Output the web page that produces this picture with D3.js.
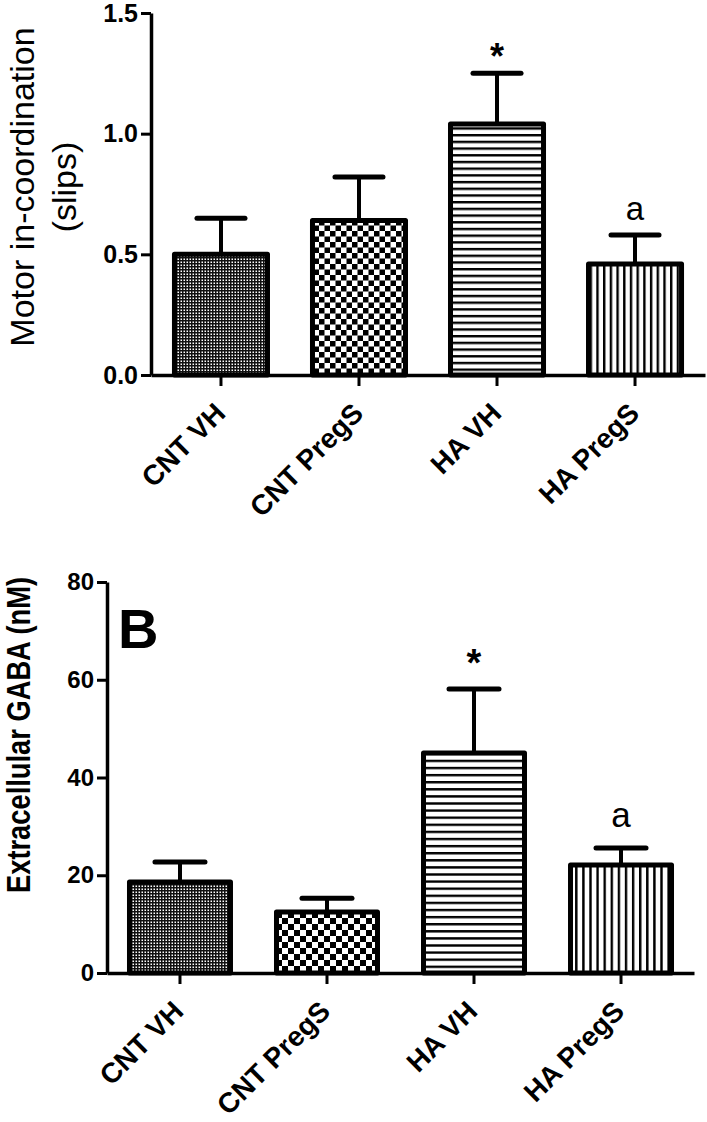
<!DOCTYPE html>
<html>
<head>
<meta charset="utf-8">
<script src="https://cdn.jsdelivr.net/npm/d3@7"></script>
<style>
html,body{margin:0;padding:0;background:#fff;}
svg{display:block;}
</style>
</head>
<body>
<svg id="chart" width="707" height="1122"></svg>
<script>
// ---- data ----
const categories = ["CNT VH", "CNT PregS", "HA VH", "HA PregS"];
const motorMeans = [0.50, 0.64, 1.04, 0.46];
const motorUpper = [0.65, 0.82, 1.25, 0.58];
const motorTicks = [0, 0.5, 1.0, 1.5];
const motorMarks = ["", "", "*", "a"];
const gabaMeans = [18.6, 12.5, 45.0, 22.1];
const gabaUpper = [22.7, 15.3, 58.1, 25.6];
const gabaTicks = [0, 20, 40, 60, 80];
const gabaMarks = ["", "", "*", "a"];

const svg = d3.select("#chart");
const defs = svg.append("defs");

function makePatterns(prefix, cell, lineP) {
  // fine dots
  const p0 = defs.append("pattern").attr("id", prefix + "p0").attr("patternUnits", "userSpaceOnUse")
    .attr("width", 3).attr("height", 3);
  p0.append("rect").attr("width", 3).attr("height", 3).attr("fill", "#111");
  p0.append("rect").attr("x", 0.5).attr("y", 0.5).attr("width", 1.5).attr("height", 1.5).attr("fill", "#fff");
  // checkerboard
  const p1 = defs.append("pattern").attr("id", prefix + "p1").attr("patternUnits", "userSpaceOnUse")
    .attr("width", cell * 2).attr("height", cell * 2);
  p1.append("rect").attr("width", cell * 2).attr("height", cell * 2).attr("fill", "#fff");
  p1.append("rect").attr("width", cell).attr("height", cell).attr("fill", "#000");
  p1.append("rect").attr("x", cell).attr("y", cell).attr("width", cell).attr("height", cell).attr("fill", "#000");
  // horizontal lines
  const p2 = defs.append("pattern").attr("id", prefix + "p2").attr("patternUnits", "userSpaceOnUse")
    .attr("width", 10).attr("height", lineP);
  p2.append("rect").attr("width", 10).attr("height", lineP).attr("fill", "#fff");
  p2.append("rect").attr("width", 10).attr("height", 2.4).attr("fill", "#000");
  // vertical lines
  const p3 = defs.append("pattern").attr("id", prefix + "p3").attr("patternUnits", "userSpaceOnUse")
    .attr("width", lineP).attr("height", 10);
  p3.append("rect").attr("width", lineP).attr("height", 10).attr("fill", "#fff");
  p3.append("rect").attr("width", 2.4).attr("height", 10).attr("fill", "#000");
}
makePatterns("a", 5.5, 6.7);
makePatterns("b", 6, 7.1);

function panel(cfg) {
  const g = svg.append("g");
  const x = d3.scaleBand().domain(categories).range(cfg.xRange)
    .paddingInner(cfg.padIn).paddingOuter(cfg.padOut);
  const y = d3.scaleLinear().domain([cfg.ticks[0], cfg.ticks[cfg.ticks.length - 1]]).range(cfg.yRange);

  // bars
  g.selectAll("rect.bar").data(categories).join("rect")
    .attr("class", "bar")
    .attr("x", d => x(d))
    .attr("width", x.bandwidth())
    .attr("y", (d, i) => y(cfg.means[i]))
    .attr("height", (d, i) => y(0) - y(cfg.means[i]))
    .attr("fill", (d, i) => "url(#" + cfg.prefix + "p" + i + ")")
    .attr("stroke", "#000").attr("stroke-width", 5).attr("stroke-linejoin", "round");

  // error bars
  g.selectAll("line.err").data(categories).join("line")
    .attr("x1", d => x(d) + x.bandwidth() / 2).attr("x2", d => x(d) + x.bandwidth() / 2)
    .attr("y1", (d, i) => y(cfg.means[i])).attr("y2", (d, i) => y(cfg.upper[i]))
    .attr("stroke", "#000").attr("stroke-width", 4);
  g.selectAll("line.cap").data(categories).join("line")
    .attr("x1", d => x(d) + x.bandwidth() / 2 - cfg.cap).attr("x2", d => x(d) + x.bandwidth() / 2 + cfg.cap)
    .attr("y1", (d, i) => y(cfg.upper[i])).attr("y2", (d, i) => y(cfg.upper[i]))
    .attr("stroke", "#000").attr("stroke-width", 5).attr("stroke-linecap", "round");

  // significance marks
  g.selectAll("text.mark").data(categories).join("text")
    .attr("x", d => x(d) + x.bandwidth() / 2)
    .attr("y", (d, i) => y(cfg.upper[i]) - (cfg.marks[i] === "*" ? cfg.starOff : cfg.aOff))
    .attr("text-anchor", "middle")
    .attr("font-family", "Liberation Sans, Arial, sans-serif")
    .attr("font-weight", (d, i) => cfg.marks[i] === "*" ? "bold" : "normal")
    .attr("font-size", (d, i) => cfg.marks[i] === "*" ? cfg.starSize : cfg.aSize)
    .text((d, i) => cfg.marks[i]);

  // y axis
  const ya = g.append("g").attr("transform", `translate(${cfg.xRange[0]},0)`)
    .call(d3.axisLeft(y).tickValues(cfg.ticks).tickFormat(cfg.fmt).tickSize(10).tickSizeOuter(0).tickPadding(3));
  ya.select(".domain").attr("stroke-width", 3.5);
  ya.selectAll(".tick line").attr("stroke-width", 3);
  ya.selectAll(".tick text").attr("font-family", "Liberation Sans, Arial, sans-serif")
    .attr("font-weight", "bold").attr("font-size", cfg.tickSize).attr("fill", "#000");

  // x axis
  const xa = g.append("g").attr("transform", `translate(0,${y(0)})`)
    .call(d3.axisBottom(x).tickSize(11).tickSizeOuter(0).tickFormat(""));
  xa.select(".domain").attr("stroke-width", 3.5);
  xa.selectAll(".tick line").attr("stroke-width", 3);

  // rotated category labels
  g.selectAll("text.cat").data(categories).join("text")
    .attr("transform", d => `translate(${x(d) + x.bandwidth() / 2 + cfg.labDx},${y(0) + cfg.labDy}) rotate(-45)`)
    .attr("text-anchor", "end")
    .attr("font-family", "Liberation Sans, Arial, sans-serif")
    .attr("font-weight", "bold").attr("font-size", cfg.catSize)
    .text(d => d);
}

// Panel A
panel({
  prefix: "a", means: motorMeans, upper: motorUpper, ticks: motorTicks, marks: motorMarks,
  xRange: [151, 705], padIn: 0.326, padOut: 0.17, yRange: [375, 13],
  fmt: d3.format(".1f"), cap: 24, starOff: 4, aOff: 15, starSize: 36, aSize: 33,
  tickSize: 25, catSize: 28, labDx: 6, labDy: 40
});

// Panel B
panel({
  prefix: "b", means: gabaMeans, upper: gabaUpper, ticks: gabaTicks, marks: gabaMarks,
  xRange: [107, 694], padIn: 0.313, padOut: 0.153, yRange: [973, 582],
  fmt: d3.format("d"), cap: 25, starOff: 13, aOff: 21, starSize: 38, aSize: 35,
  tickSize: 24, catSize: 28, labDx: 5, labDy: 40
});

// Axis titles
const tA = svg.append("text")
  .attr("transform", "translate(34,187) rotate(-90)")
  .attr("text-anchor", "middle")
  .attr("font-family", "Liberation Sans, Arial, sans-serif")
  .attr("font-size", 34);
tA.append("tspan").attr("x", 0).attr("y", 0).text("Motor in-coordination");
tA.append("tspan").attr("x", 0).attr("y", 42).text("(slips)");

svg.append("text")
  .attr("transform", "translate(30,735) rotate(-90)")
  .attr("text-anchor", "middle")
  .attr("font-family", "Liberation Sans, Arial, sans-serif")
  .attr("font-weight", "bold")
  .attr("font-size", 33)
  .attr("textLength", 316).attr("lengthAdjust", "spacingAndGlyphs")
  .text("Extracellular GABA (nM)");

svg.append("text")
  .attr("x", 118).attr("y", 648)
  .attr("font-family", "Liberation Sans, Arial, sans-serif")
  .attr("font-weight", "bold").attr("font-size", 56)
  .text("B");
</script>
</body>
</html>
